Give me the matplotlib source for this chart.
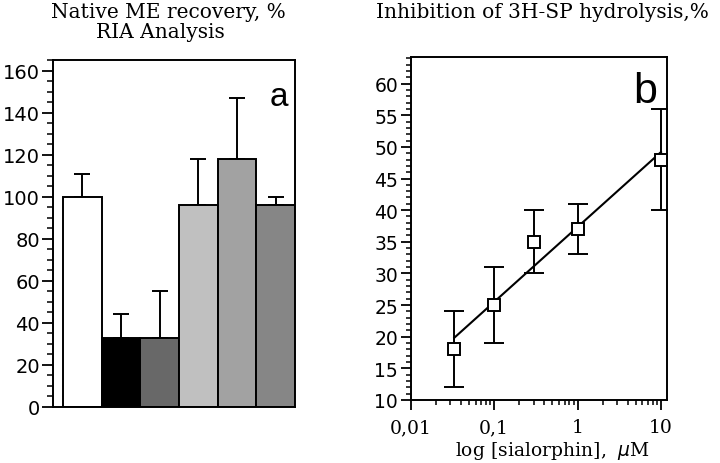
import numpy as np
import matplotlib.pyplot as plt
from matplotlib.ticker import MultipleLocator, FixedLocator, NullFormatter

# panel a: recovery of native ME, %
bar_values = [100, 33, 33, 96, 118, 96]
bar_err_up = [11, 11, 22, 22, 29, 4]
bar_colors = ["#ffffff", "#000000", "#686868", "#c0c0c0", "#a2a2a2", "#868686"]

# panel b: inhibition of 3H-SP hydrolysis, %
conc = [0.0333, 0.1, 0.3, 1.0, 10.0]
inhib = [18, 25, 35, 37, 48]
inhib_lo = [12, 19, 30, 33, 40]
inhib_hi = [24, 31, 40, 41, 56]

serif = "DejaVu Serif"
tickfont = "DejaVu Sans"
tsize = 13.5

fig = plt.figure(figsize=(7.2, 4.64), dpi=100)

# ---- panel a ----
ax1 = fig.add_axes([0.0736, 0.1207, 0.3361, 0.7478])
pos = np.arange(len(bar_values))
ax1.bar(pos, bar_values, width=1.0, color=bar_colors, edgecolor="black",
        linewidth=1.4, zorder=2)
ax1.errorbar(pos, bar_values, yerr=[np.zeros(len(bar_err_up)), bar_err_up],
             fmt="none", ecolor="black", elinewidth=1.4, capsize=5.8,
             capthick=1.4, zorder=1)
ax1.set_xlim(-0.76, 5.5)
ax1.set_ylim(0, 165)
ax1.yaxis.set_major_locator(MultipleLocator(20))
ax1.yaxis.set_minor_locator(MultipleLocator(5))
ax1.set_xticks([])
ax1.tick_params(axis="y", which="major", length=8, width=1.3, direction="out",
                labelsize=14, pad=1.5)
ax1.tick_params(axis="y", which="minor", length=4, width=1.1, direction="out")
for lab in ax1.get_yticklabels():
    lab.set_fontfamily(tickfont)
for s in ax1.spines.values():
    s.set_linewidth(1.4)
ax1.text(0.935, 0.895, "a", transform=ax1.transAxes, fontsize=24,
         family="Liberation Sans", ha="center", va="center")
fig.text(168 / 720, 1 - 12 / 464, "Native ME recovery, %", family=serif,
         fontsize=14.5, ha="center", va="center")
fig.text(160 / 720, 1 - 33 / 464, "RIA Analysis", family=serif,
         fontsize=14.5, ha="center", va="center")

# ---- panel b ----
ax2 = fig.add_axes([0.5704, 0.1358, 0.356, 0.7392])
ax2.set_xscale("log")
yerr = [np.array(inhib) - np.array(inhib_lo), np.array(inhib_hi) - np.array(inhib)]
ax2.errorbar(conc, inhib, yerr=yerr, fmt="none", ecolor="black",
             elinewidth=1.4, capsize=7, capthick=1.4, zorder=1)
k, b = np.polyfit(np.log10(conc), inhib, 1)
lx = np.array([conc[0], conc[-1]])
ax2.plot(lx, k * np.log10(lx) + b, color="black", lw=1.5, zorder=2)
ax2.plot(conc, inhib, "s", ms=8.5, mfc="white", mec="black", mew=1.4, zorder=3)
ax2.set_xlim(0.01, 11.8)
ax2.set_ylim(10, 64.2)
ax2.yaxis.set_major_locator(MultipleLocator(5))
ax2.yaxis.set_minor_locator(MultipleLocator(1))
ax2.xaxis.set_major_locator(FixedLocator([0.01, 0.1, 1, 10]))
ax2.set_xticklabels(["0,01", "0,1", "1", "10"], family=serif, fontsize=tsize)
ax2.xaxis.set_minor_locator(FixedLocator(
    [m * 10.0 ** e for e in (-2, -1, 0) for m in range(2, 10)]))
ax2.xaxis.set_minor_formatter(NullFormatter())
ax2.tick_params(which="major", length=7, width=1.3, direction="out")
ax2.tick_params(which="minor", length=3.5, width=1.1, direction="out")
ax2.tick_params(axis="y", which="major", labelsize=13.5, pad=2)
ax2.tick_params(axis="x", which="major", labelsize=tsize, pad=6)
for lab in ax2.get_yticklabels():
    lab.set_fontfamily(tickfont)
for s in ax2.spines.values():
    s.set_linewidth(1.4)
ax2.text(0.914, 0.9, "b", transform=ax2.transAxes, fontsize=31,
         family="Liberation Sans", ha="center", va="center")
ax2.set_xlabel(r"log [sialorphin],  $\mu$M", family=serif, fontsize=tsize)
ax2.xaxis.set_label_coords((553 - 410.7) / (667 - 410.7), -0.113)
fig.text(542 / 720, 1 - 12 / 464, "Inhibition of 3H-SP hydrolysis,%",
         family=serif, fontsize=14.5, ha="center", va="center")

fig.savefig("out.png", dpi=100)
